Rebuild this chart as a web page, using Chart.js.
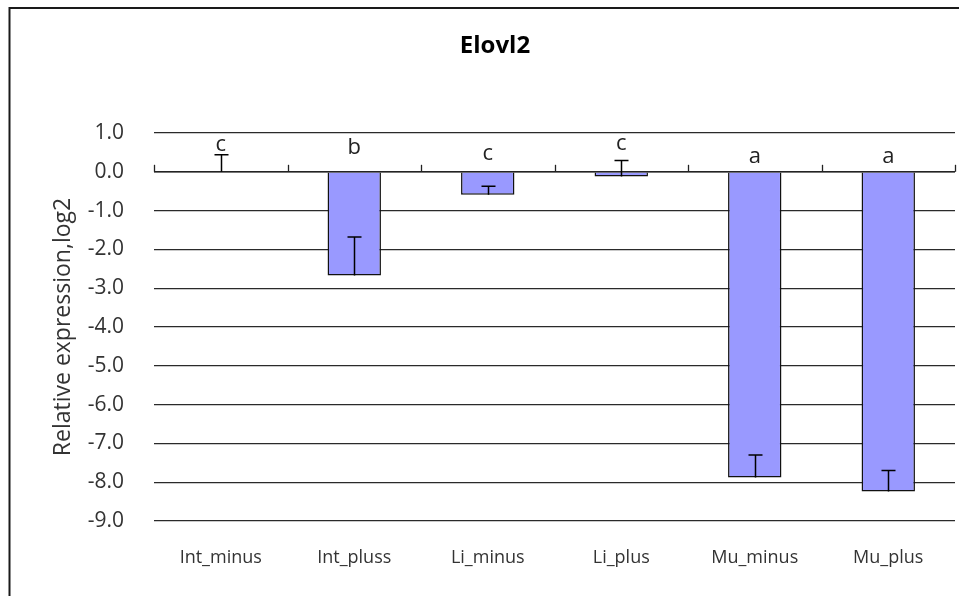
<!DOCTYPE html>
<html>
<head>
<meta charset="utf-8">
<script src="https://cdn.jsdelivr.net/npm/chart.js@4"></script>
<style>
  html, body { margin: 0; padding: 0; background: #fff; }
  #wrap { width: 959px; height: 596px; position: relative; }
</style>
</head>
<body>
<div id="wrap"><canvas id="chart"></canvas></div>
<script>
// values
const groups = ["Int_minus", "Int_pluss", "Li_minus", "Li_plus", "Mu_minus", "Mu_plus"];
const meanLog2 = [0, -2.67, -0.59, -0.12, -7.88, -8.24];
const errLog2 = [0.44, 0.99, 0.22, 0.41, 0.58, 0.54];
const letters = ["c", "b", "c", "c", "a", "a"];
const letterAt = [0.70, 0.63, 0.46, 0.72, 0.38, 0.38];
const yMin = -9, yMax = 1;

const FONT = "'Open Sans', 'Noto Sans', sans-serif";

const extras = {
	id: "extras",
	beforeDraw(chart) {
		const c = chart.ctx;
		c.save();
		c.strokeStyle = "#1a1a1a";
		c.lineWidth = 2;
		c.beginPath();
		c.moveTo(9.5, 596);
		c.lineTo(9.5, 8);
		c.lineTo(959, 8);
		c.stroke();
		c.restore();
	},
	afterDatasetsDraw(chart) {
		const c = chart.ctx;
		const x = chart.scales.x, y = chart.scales.y;
		const area = chart.chartArea;
		const y0 = y.getPixelForValue(0);
		c.save();
		// zero line drawn over bar tops, with tick marks
		c.strokeStyle = "#222";
		c.lineWidth = 1.3;
		c.beginPath();
		c.moveTo(area.left, y0);
		c.lineTo(area.right, y0);
		c.stroke();
		const step = (area.right - area.left) / groups.length;
		for (let i = 0; i <= groups.length; i++) {
			const px = Math.round(area.left + i * step) + 0.5;
			c.beginPath();
			c.moveTo(px, y0);
			c.lineTo(px, y0 - 7);
			c.stroke();
		}
		// error bars
		c.strokeStyle = "#000";
		c.lineWidth = 1.5;
		groups.forEach((g, i) => {
			const cx = Math.round(x.getPixelForValue(i)) + 0.5;
			const a = y.getPixelForValue(meanLog2[i]);
			const b = y.getPixelForValue(meanLog2[i] + errLog2[i]);
			c.beginPath();
			c.moveTo(cx, a);
			c.lineTo(cx, b);
			c.moveTo(cx - 7, b);
			c.lineTo(cx + 7, b);
			c.stroke();
		});
		// significance letters
		c.fillStyle = "#222";
		c.font = "22px " + FONT;
		c.textAlign = "center";
		c.textBaseline = "middle";
		letters.forEach((l, i) => {
			c.fillText(l, x.getPixelForValue(i), y.getPixelForValue(letterAt[i]));
		});
		// title
		c.fillStyle = "#000";
		c.font = "bold 24px " + FONT;
		c.fillText("Elovl2", 495, 46);
		c.restore();
	}
};

new Chart(document.getElementById("chart"), {
	type: "bar",
	data: {
		labels: groups,
		datasets: [{
			data: meanLog2,
			backgroundColor: "#9999ff",
			borderColor: "#111",
			borderWidth: 1.5,
			borderSkipped: "start",
			barPercentage: 0.4,
			categoryPercentage: 1
		}]
	},
	options: {
		responsive: true,
		maintainAspectRatio: false,
		animation: false,
		layout: { padding: { top: 133, right: 4, left: 0, bottom: 0 } },
		plugins: {
			legend: { display: false },
			tooltip: { enabled: false },
			title: { display: false }
		},
		scales: {
			x: {
				grid: { display: false, drawTicks: false },
				border: { display: false },
				ticks: { color: "#333", font: { family: FONT, size: 18 }, padding: 26, maxRotation: 0 },
				afterFit(s) { s.height = 75; }
			},
			y: {
				min: yMin,
				max: yMax,
				grid: { color: "#2a2a2a", lineWidth: 1.3, drawTicks: false },
				border: { display: false },
				ticks: {
					stepSize: 1,
					color: "#333",
					padding: 30,
					font: { family: FONT, size: 21 },
					callback: v => v.toFixed(1)
				},
				title: {
					display: true,
					text: "Relative expression,log2",
					color: "#333",
					font: { family: FONT, size: 23 },
					padding: { top: 50 }
				},
				afterFit(s) { s.width = 154; }
			}
		}
	},
	plugins: [extras]
});
</script>
</body>
</html>
